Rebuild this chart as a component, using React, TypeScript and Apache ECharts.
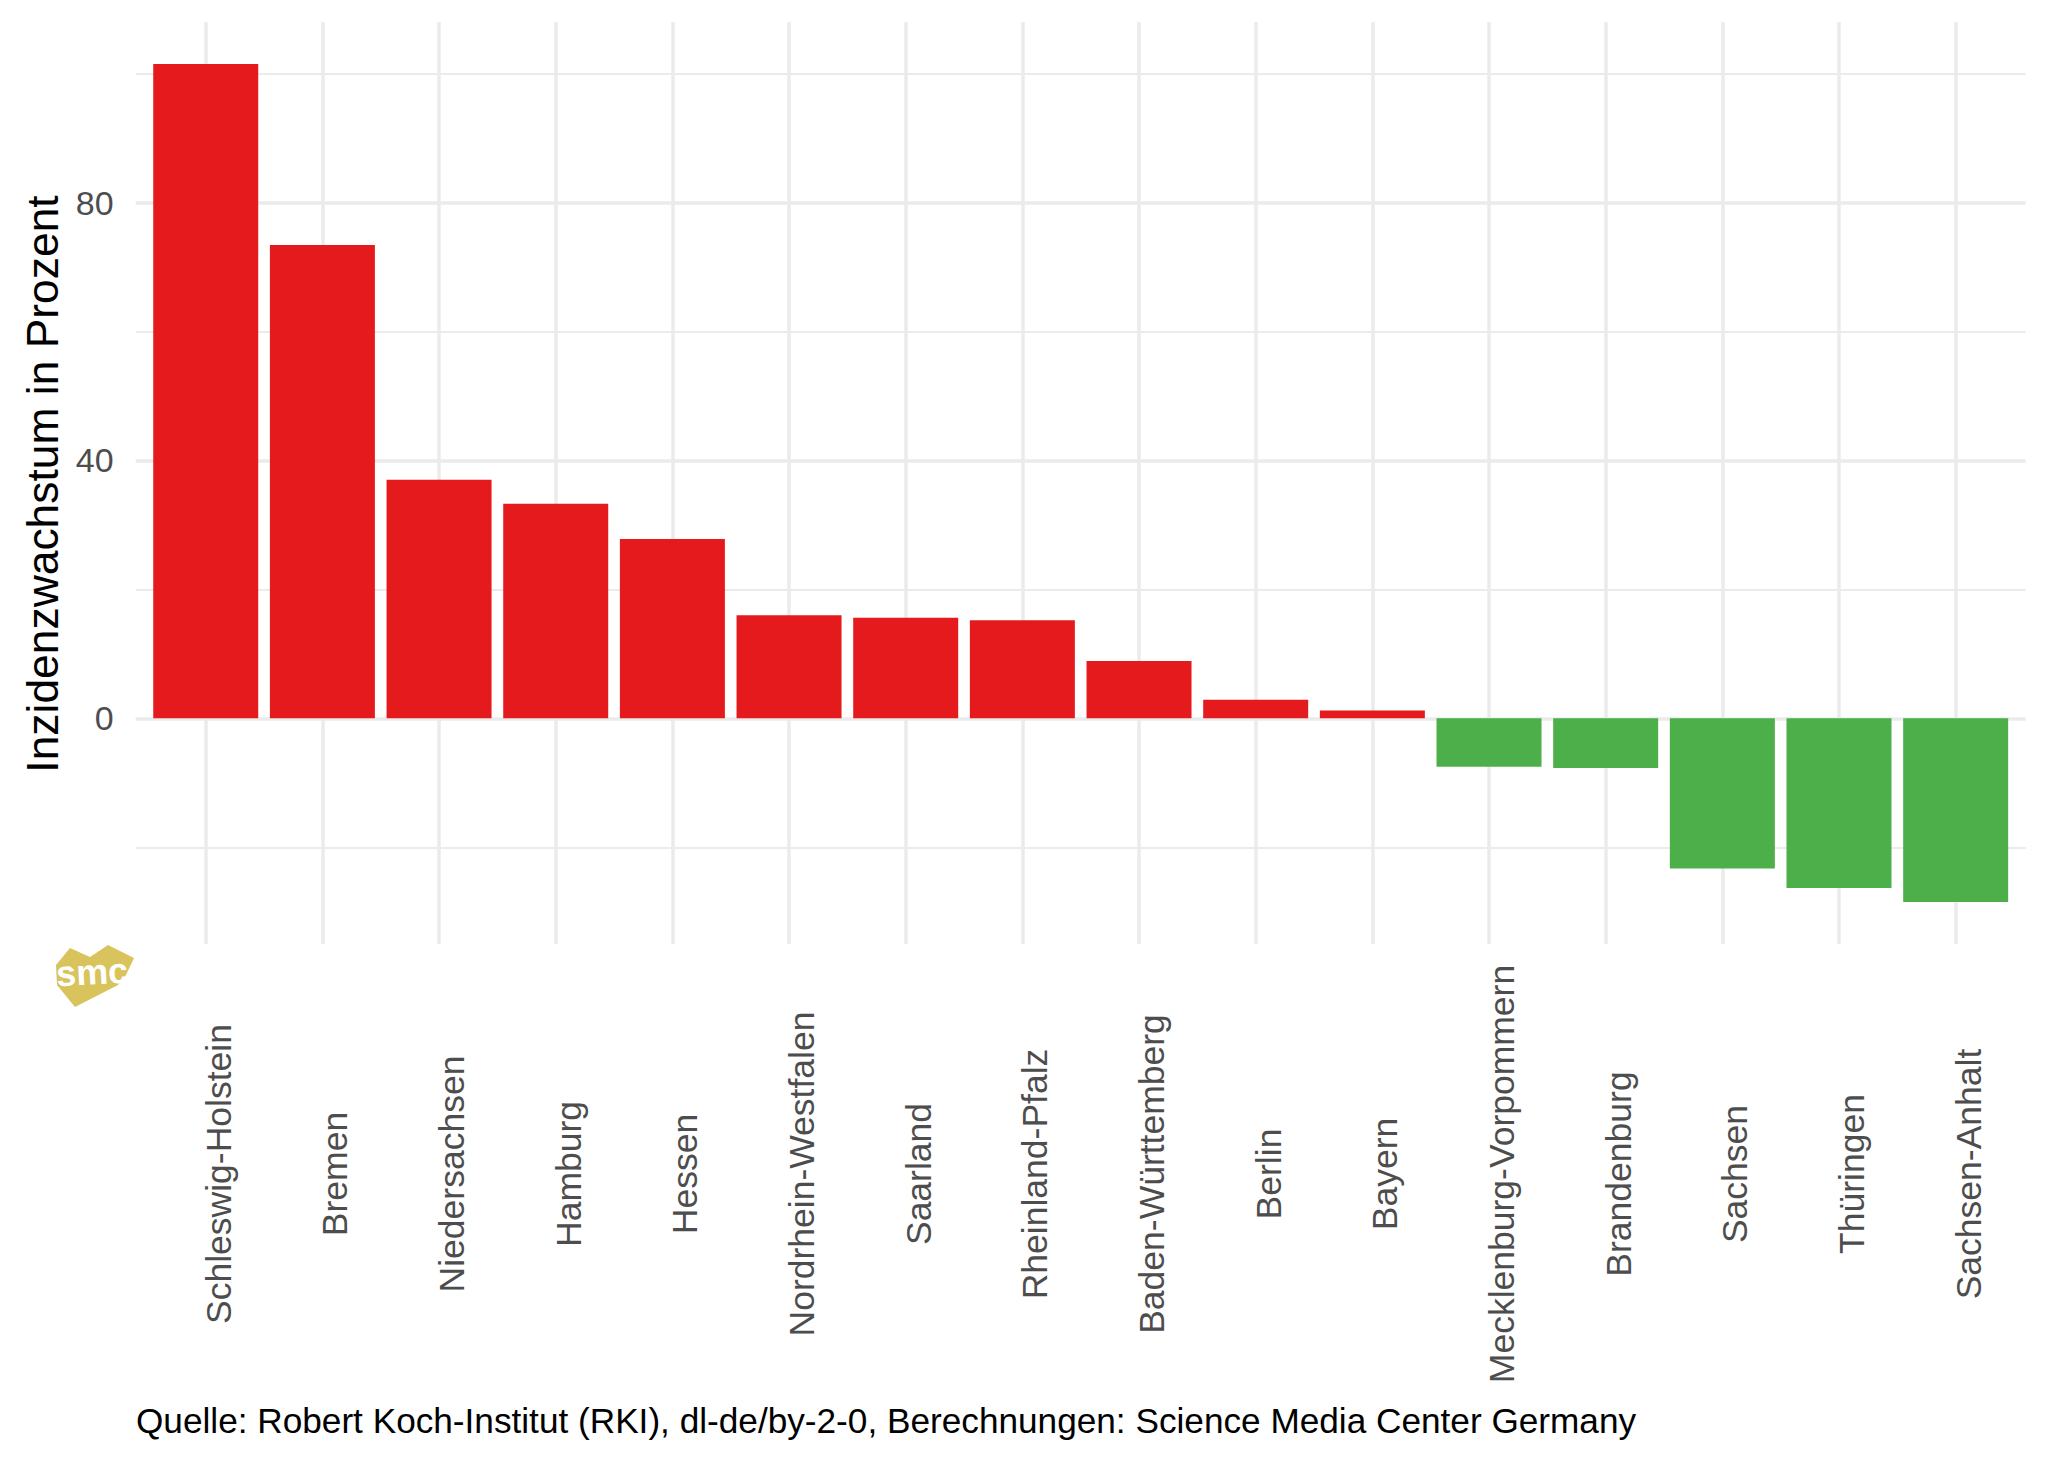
import React, { useEffect, useRef } from 'react';
import * as echarts from 'echarts';

const categories = [
  'Schleswig-Holstein',
  'Bremen',
  'Niedersachsen',
  'Hamburg',
  'Hessen',
  'Nordrhein-Westfalen',
  'Saarland',
  'Rheinland-Pfalz',
  'Baden-Württemberg',
  'Berlin',
  'Bayern',
  'Mecklenburg-Vorpommern',
  'Brandenburg',
  'Sachsen',
  'Thüringen',
  'Sachsen-Anhalt',
];
const values = [101.5, 73.4, 37.0, 33.3, 27.8, 16.0, 15.6, 15.2, 8.9, 2.9, 1.2, -7.5, -7.7, -23.3, -26.3, -28.5];
const majorTicks = [0, 40, 80];
const minorTicks = [-20, 20, 60, 100];
const yTitle = 'Inzidenzwachstum in Prozent';
const caption = 'Quelle: Robert Koch-Institut (RKI), dl-de/by-2-0, Berechnungen: Science Media Center Germany';
const logoText = 'smc';

export default function App() {
  const ref = useRef<HTMLDivElement>(null);
  useEffect(() => {
    document.body.style.margin = '0';
    const chart = echarts.init(ref.current as HTMLDivElement, null, { renderer: 'svg' });
    const lo = Math.min(...values);
    const hi = Math.max(...values);
    const span = hi - lo;
    const yMin = lo - 0.05 * span;
    const yMax = hi + 0.05 * span;
    const font = 'Liberation Sans';
    const red = '#E41A1C';
    const green = '#4DAF4A';
    const gridColor = '#EBEBEB';
    const axisText = '#4D4D4D';
    const top = 22;
    const height = 922;

    const option = {
      animation: false,
      backgroundColor: '#FFFFFF',
      grid: [
        { left: 147.4, right: 34.0, top, height },
        { left: 135.7, right: 22.3, top, height },
      ],
      xAxis: [
        {
          type: 'category',
          gridIndex: 0,
          data: categories,
          axisLine: { show: false },
          axisTick: { show: false },
          splitLine: { show: false },
          axisLabel: {
            interval: 0,
            rotate: 90,
            align: 'center',
            verticalAlign: 'top',
            lineHeight: 26,
            margin: 230,
            fontFamily: font,
            fontSize: 35.5,
            color: axisText,
          },
        },
        { type: 'value', gridIndex: 1, min: 0, max: 1, show: false },
      ],
      yAxis: [
        { type: 'value', gridIndex: 0, min: yMin, max: yMax, show: false },
        {
          type: 'value',
          gridIndex: 1,
          min: yMin,
          max: yMax,
          axisLine: { show: false },
          axisTick: { show: false },
          splitLine: { show: false },
          axisLabel: {
            customValues: majorTicks,
            margin: 22,
            fontFamily: font,
            fontSize: 34,
            color: axisText,
          },
        },
      ],
      series: [
        {
          type: 'line',
          xAxisIndex: 1,
          yAxisIndex: 1,
          data: [],
          z: 0,
          silent: true,
          markLine: {
            silent: true,
            z: 0,
            symbol: ['none', 'none'],
            label: { show: false },
            data: [
              ...minorTicks.map((v) => ({ yAxis: v, lineStyle: { color: gridColor, width: 2, type: 'solid' } })),
              ...majorTicks.map((v) => ({ yAxis: v, lineStyle: { color: gridColor, width: 3.5, type: 'solid' } })),
            ],
          },
        },
        {
          type: 'line',
          xAxisIndex: 0,
          yAxisIndex: 0,
          data: [],
          z: 0,
          silent: true,
          markLine: {
            silent: true,
            z: 0,
            symbol: ['none', 'none'],
            label: { show: false },
            lineStyle: { color: gridColor, width: 3.5, type: 'solid' },
            data: categories.map((c) => ({ xAxis: c })),
          },
        },
        {
          type: 'bar',
          xAxisIndex: 0,
          yAxisIndex: 0,
          barWidth: '90%',
          z: 10,
          data: values.map((v) => ({ value: v, itemStyle: { color: v >= 0 ? red : green } })),
        },
      ],
      graphic: [
        {
          type: 'polygon',
          shape: {
            points: [
              [56, 965],
              [70, 948],
              [90, 957],
              [108, 945],
              [134, 958],
              [125, 977],
              [118, 985],
              [75, 1007],
              [57, 985],
            ],
          },
          style: { fill: '#D8C35C' },
          z: 20,
        },
        {
          type: 'text',
          x: 92,
          y: 972,
          rotation: 0.05,
          style: {
            text: logoText,
            fontFamily: font,
            fontWeight: 'bold',
            fontSize: 36,
            fill: '#FFFFFF',
            align: 'center',
            verticalAlign: 'middle',
          },
          z: 21,
        },
        {
          type: 'text',
          x: 42,
          y: 484,
          rotation: Math.PI / 2,
          style: {
            text: yTitle,
            fontFamily: font,
            fontSize: 44.4,
            fill: '#000000',
            align: 'center',
            verticalAlign: 'middle',
          },
        },
        {
          type: 'text',
          x: 136,
          y: 1420,
          style: {
            text: caption,
            fontFamily: font,
            fontSize: 35.2,
            fill: '#000000',
            align: 'left',
            verticalAlign: 'middle',
          },
        },
      ],
    };
    chart.setOption(option as any);
    return () => {
      chart.dispose();
    };
  }, []);
  return <div ref={ref} style={{ width: 2048, height: 1462 }} />;
}
